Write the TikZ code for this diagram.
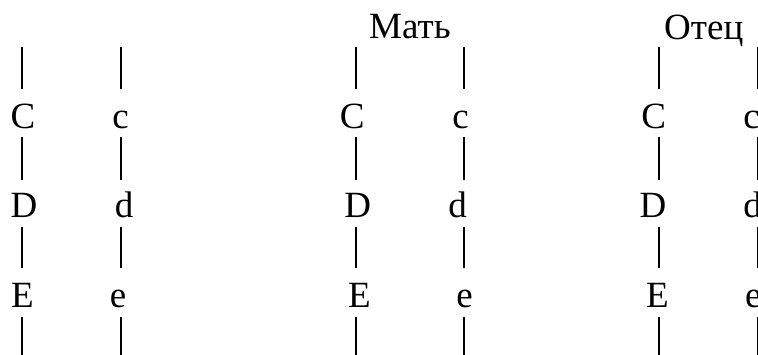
\documentclass[tikz,border=0pt]{standalone}
\usepackage{fontspec}
\setmainfont{Liberation Serif}
\begin{document}
\begin{tikzpicture}[x=1pt,y=-1pt,
  gene/.style={anchor=base,inner sep=0pt,font=\fontsize{37}{40}\selectfont},
  parent/.style={anchor=base west,inner sep=0pt,font=\fontsize{37}{40}\selectfont},
  chrom/.style={line width=1.9pt}]
\useasboundingbox (0,0) rectangle (758,355);

% vertical extents of the chromosome segments
\coordinate (t1) at (0,47);  \coordinate (b1) at (0,89);
\coordinate (t2) at (0,137); \coordinate (b2) at (0,180);
\coordinate (t3) at (0,227); \coordinate (b3) at (0,268);
\coordinate (t4) at (0,317); \coordinate (b4) at (0,355);

% horizontal positions of the six chromosomes
\coordinate (k1) at (22.3,0);
\coordinate (k2) at (121.3,0);
\coordinate (k3) at (355.7,0);
\coordinate (k4) at (464.3,0);
\coordinate (k5) at (659.3,0);
\coordinate (k6) at (757.6,0);

\foreach \k in {k1,k2,k3,k4,k5,k6}
  \foreach \s in {1,2,3,4}
    \draw[chrom] (\k |- t\s) -- (\k |- b\s);

% parents
\node[parent] (mother) at (369,38.5) {Мать};
\node[parent] (father) at (664,39.5) {Отец};

% first pair
\node[gene] (C1) at (23,129)    {C};
\node[gene] (c1) at (120.5,129) {c};
\node[gene] (D1) at (24,218)    {D};
\node[gene] (d1) at (124,218)   {d};
\node[gene] (E1) at (22.5,307.7){E};
\node[gene] (e1) at (118,307.7) {e};

% second pair
\node[gene] (C2) at (352.3,129) {C};
\node[gene] (c2) at (460.5,129) {c};
\node[gene] (D2) at (357.8,218) {D};
\node[gene] (d2) at (457.5,218) {d};
\node[gene] (E2) at (359.5,307.7){E};
\node[gene] (e2) at (464.7,307.7){e};

% third pair
\node[gene] (C3) at (653.7,129) {C};
\node[gene] (c3) at (751.6,129) {c};
\node[gene] (D3) at (653,218)   {D};
\node[gene] (d3) at (752.6,218) {d};
\node[gene] (E3) at (657.5,307.7){E};
\node[gene] (e3) at (753.3,307.7){e};
\end{tikzpicture}
\end{document}
